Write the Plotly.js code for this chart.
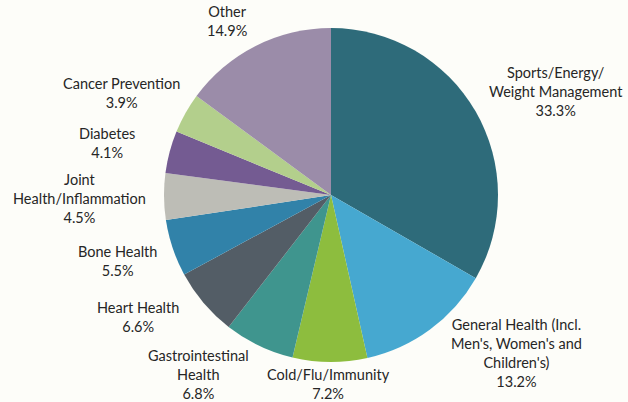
<!DOCTYPE html>
<html><head><meta charset="utf-8">
<script src="https://cdn.plot.ly/plotly-3.0.1.min.js"></script>
<style>html,body{margin:0;padding:0;background:#fdfdf9;}#chart{width:628px;height:402px;}</style>
</head><body><div id="chart"></div>
<script>
const categories = ["Sports/Energy/<br>Weight Management","General Health (Incl.<br>Men's, Women's and<br>Children's)","Cold/Flu/Immunity","Gastrointestinal<br>Health","Heart Health","Bone Health","Joint<br>Health/Inflammation","Diabetes","Cancer Prevention","Other"];
const shares = [33.3,13.2,7.2,6.8,6.6,5.5,4.5,4.1,3.9,14.9];
const colors = ["#2e6b7a","#46a8d0","#8dbd3e","#3f958e","#535d66","#3182a9","#bdbdb6","#745b92","#b3cf8c","#9b8ca9"];

// label block centres in page pixels (layout only)
const labelCentres = [[556,92],[516,353],[328,384],[198,374],[138,317],[117,261],[79,198],[107,143],[121,93],[227,21]];

const W=628,H=402, L=164,R=130,T=28,B=40;
const pw=W-L-R, ph=H-T-B;
const annotations = categories.map((c,i)=>({
  text: c+'<br>'+shares[i].toFixed(1)+'%',
  xref:'paper', yref:'paper',
  x:(labelCentres[i][0]-L)/pw, y:(H-B-labelCentres[i][1])/ph,
  xanchor:'center', yanchor:'middle', align:'center', showarrow:false,
  font:{family:'Lato, sans-serif', size:14.5, color:'#262626'}
}));

Plotly.newPlot('chart',[{
  type:'pie', labels:categories, values:shares, sort:false, direction:'clockwise', rotation:0,
  marker:{colors:colors, line:{width:0}},
  textinfo:'none', hoverinfo:'label+value', showlegend:false,
  domain:{x:[0,1],y:[0,1]}
}],{
  width:W,height:H,
  margin:{l:L,r:R,t:T,b:B},
  paper_bgcolor:'#fdfdf9', plot_bgcolor:'#fdfdf9', showlegend:false,
  annotations:annotations
},{displayModeBar:false,staticPlot:true});
</script></body></html>
